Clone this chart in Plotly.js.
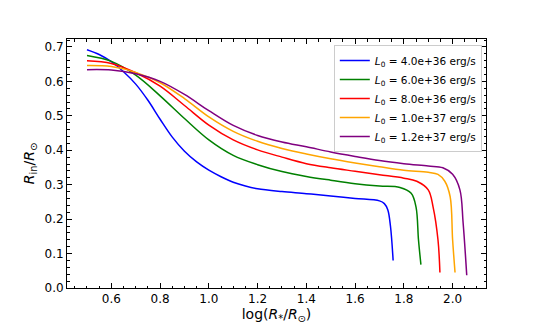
<!DOCTYPE html>
<html>
<head>
<meta charset="utf-8">
<script src="https://cdn.plot.ly/plotly-3.0.1.min.js"></script>
<style>
  html, body { margin: 0; padding: 0; background: #fff; }
  #chart { width: 540px; height: 324px; }
</style>
</head>
<body>
<div id="chart"></div>
<script>
// values
var labels = ['4.0e+36', '6.0e+36', '8.0e+36', '1.0e+37', '1.2e+37']
var colors = ['blue', 'green', 'red', 'orange', 'purple']

var x_blue = [0.50, 0.55, 0.60, 0.65, 0.70, 0.75, 0.80, 0.85, 0.90, 0.95, 1.00, 1.05, 1.10, 1.15, 1.20, 1.30, 1.40, 1.50, 1.60, 1.70, 1.72, 1.734, 1.745, 1.756]
var y_blue = [0.692, 0.678, 0.657, 0.628, 0.592, 0.545, 0.490, 0.438, 0.397, 0.366, 0.342, 0.323, 0.307, 0.296, 0.288, 0.280, 0.274, 0.267, 0.260, 0.253, 0.245, 0.227, 0.180, 0.080]

var x_green = [0.50, 0.60, 0.70, 0.80, 0.90, 1.00, 1.10, 1.20, 1.30, 1.40, 1.50, 1.60, 1.70, 1.784, 1.83, 1.85, 1.86, 1.87]
var y_green = [0.675, 0.658, 0.618, 0.558, 0.492, 0.430, 0.385, 0.358, 0.338, 0.324, 0.313, 0.303, 0.296, 0.292, 0.275, 0.235, 0.140, 0.068]

var x_red = [0.50, 0.60, 0.70, 0.80, 0.90, 1.00, 1.10, 1.20, 1.30, 1.40, 1.50, 1.60, 1.70, 1.80, 1.853, 1.90, 1.92, 1.94, 1.948]
var y_red = [0.660, 0.652, 0.625, 0.586, 0.530, 0.473, 0.430, 0.401, 0.380, 0.361, 0.349, 0.339, 0.329, 0.319, 0.310, 0.285, 0.235, 0.140, 0.045]

var x_orange = [0.50, 0.60, 0.70, 0.80, 0.90, 1.00, 1.10, 1.20, 1.30, 1.40, 1.50, 1.60, 1.70, 1.80, 1.90, 1.94, 1.968, 1.99, 2.00, 2.01]
var y_orange = [0.646, 0.643, 0.626, 0.596, 0.550, 0.497, 0.455, 0.426, 0.405, 0.389, 0.375, 0.363, 0.352, 0.342, 0.336, 0.330, 0.310, 0.265, 0.140, 0.045]

var x_purple = [0.50, 0.60, 0.70, 0.80, 0.90, 1.00, 1.10, 1.20, 1.30, 1.40, 1.50, 1.60, 1.70, 1.80, 1.90, 1.96, 2.00, 2.03, 2.043, 2.058]
var y_purple = [0.634, 0.633, 0.622, 0.600, 0.562, 0.515, 0.472, 0.443, 0.424, 0.410, 0.395, 0.382, 0.370, 0.361, 0.354, 0.349, 0.330, 0.285, 0.190, 0.037]

var xs = [x_blue, x_green, x_red, x_orange, x_purple]
var ys = [y_blue, y_green, y_red, y_orange, y_purple]

var data = []
for (var i = 0; i < labels.length; i++) {
  data.push({
    x: xs[i],
    y: ys[i],
    mode: 'lines',
    line: { color: colors[i], width: 1.5, shape: 'spline', smoothing: 1 },
    name: '<i>L</i><sub>0</sub> = ' + labels[i] + ' erg/s'
  })
}

var axisStyle = {
  showgrid: false,
  zeroline: false,
  showline: true,
  linecolor: '#000',
  linewidth: 1,
  mirror: 'allticks',
  ticks: 'inside',
  ticklen: 5,
  tickcolor: '#000',
  tickfont: { size: 12, color: '#000' }
}

var layout = {
  width: 540,
  height: 324,
  margin: { l: 67, r: 54, t: 39, b: 36 },
  paper_bgcolor: '#fff',
  plot_bgcolor: '#fff',
  font: { family: 'DejaVu Sans', color: '#000' },
  showlegend: true,
  legend: {
    x: 0.99, y: 0.976,
    xanchor: 'right', yanchor: 'top',
    bordercolor: '#ccc',
    borderwidth: 1,
    bgcolor: 'rgba(255,255,255,0.8)',
    font: { size: 10.5 },
    itemwidth: 30,
    tracegroupgap: 0
  },
  xaxis: Object.assign({}, axisStyle, {
    range: [0.418, 2.137],
    dtick: 0.2,
    tick0: 0,
    tickformat: '.1f',
    minor: { dtick: 0.05, ticks: 'inside', ticklen: 2.5, tickcolor: '#000' },
    title: { text: 'log(<i>R</i><sub>*</sub>/<i>R</i><sub>⊙</sub>)', font: { size: 14 }, standoff: 3 }
  }),
  yaxis: Object.assign({}, axisStyle, {
    range: [0, 0.723],
    dtick: 0.1,
    tick0: 0,
    tickformat: '.1f',
    minor: { dtick: 0.02, ticks: 'inside', ticklen: 2.5, tickcolor: '#000' },
    title: { text: '<i>R</i><sub>in</sub>/<i>R</i><sub>⊙</sub>', font: { size: 14 }, standoff: 6 }
  })
}

Plotly.newPlot('chart', data, layout, { displayModeBar: false })
</script>
</body>
</html>
